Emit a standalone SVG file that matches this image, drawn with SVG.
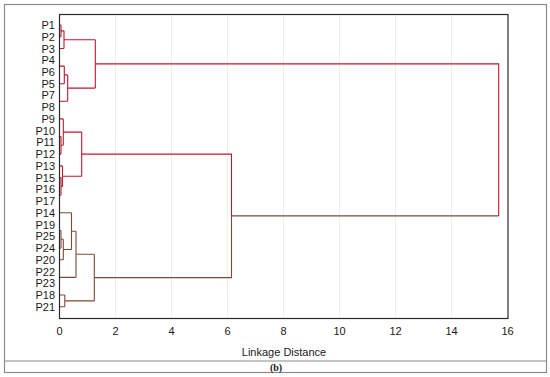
<svg xmlns="http://www.w3.org/2000/svg" width="550" height="377" viewBox="0 0 550 377">
<style>
.lbl{font-family:"Liberation Sans",Arial,sans-serif;font-size:11px;fill:#1a1a1a}
.leaf{text-anchor:end}
.tick{text-anchor:middle}
.grid{stroke:#f0f0f0;stroke-width:1}
.r{fill:none;stroke:#c4162f;stroke-width:1.1}
.b{fill:none;stroke:#7d4a3a;stroke-width:1.1}
</style>
<rect x="0" y="0" width="550" height="377" fill="#fff"/>
<rect x="4.5" y="4.5" width="542" height="368" fill="none" stroke="#8c8c8c" stroke-width="1.2"/>
<line x1="4.5" y1="361" x2="546.5" y2="361" stroke="#8c8c8c" stroke-width="1.2"/>
<g id="grid">
<line class="grid" x1="115.5" y1="15" x2="115.5" y2="318"/>
<line class="grid" x1="171.5" y1="15" x2="171.5" y2="318"/>
<line class="grid" x1="227.5" y1="15" x2="227.5" y2="318"/>
<line class="grid" x1="283.5" y1="15" x2="283.5" y2="318"/>
<line class="grid" x1="339.5" y1="15" x2="339.5" y2="318"/>
<line class="grid" x1="395.5" y1="15" x2="395.5" y2="318"/>
<line class="grid" x1="451.5" y1="15" x2="451.5" y2="318"/>
</g>
<g id="connectors">
<!-- P1-P8 cluster -->
<path class="r" d="M59.5 25H61M59.5 36.7H61M61 25V36.7M61 30.85H64M59.5 48.5H64M64 30.85V48.5M64 39.7H95.3"/>
<path class="r" d="M59.5 66.1H64.3M59.5 83.7H64.3M64.3 66.1V83.7M64.3 74.9H67.7M59.5 101.3H67.7M67.7 74.9V101.3M67.7 88.1H95.3"/>
<path class="r" d="M95.3 39.7V88.1M95.3 63.9H498.7V215.9"/>
<!-- P9-P17 cluster -->
<path class="r" d="M59.5 136.6H61M59.5 154.1H61M61 136.6V154.1M61 145.3H63.3M59.5 118.9H63.3M63.3 118.9V145.3M63.3 132.1H81.7"/>
<path class="r" d="M59.5 177.6H61M59.5 195.3H61M61 177.6V195.3M61 186.4H62.5M59.5 165.9H62.5M62.5 165.9V186.4M62.5 176.2H81.7"/>
<path class="r" d="M81.7 132.1V176.2M81.7 154.15H231.5V215.9"/>
<!-- P14-P21 cluster -->
<path class="b" d="M59.5 230.5H61M59.5 248.1H61M61 230.5V248.1M61 239.3H63.3M59.5 259.8H63.3M63.3 239.3V259.8M63.3 249.5H71.5M59.5 212.8H71.5M71.5 212.8V249.5M71.5 231.2H76M59.5 277.4H76M76 231.2V277.4M76 254.3H94.3"/>
<path class="b" d="M59.5 295H64.8M59.5 306.8H64.8M64.8 295V306.8M64.8 300.9H94.3M94.3 254.3V300.9M94.3 277.6H231.5V215.9M231.5 215.9H498.7"/>
</g>
<rect x="59.5" y="14.5" width="448.5" height="304" fill="none" stroke="#2a2a2a" stroke-width="1.2"/>
<g id="leaves" class="lbl leaf">
<text x="55" y="29">P1</text>
<text x="55" y="40.7">P2</text>
<text x="55" y="52.5">P3</text>
<text x="55" y="64.2">P4</text>
<text x="55" y="76">P6</text>
<text x="55" y="87.7">P5</text>
<text x="55" y="99.4">P7</text>
<text x="55" y="111.2">P8</text>
<text x="55" y="122.9">P9</text>
<text x="55" y="134.7">P10</text>
<text x="55" y="146.4">P11</text>
<text x="55" y="158.1">P12</text>
<text x="55" y="169.9">P13</text>
<text x="55" y="181.6">P15</text>
<text x="55" y="193.4">P16</text>
<text x="55" y="205.1">P17</text>
<text x="55" y="216.8">P14</text>
<text x="55" y="228.6">P19</text>
<text x="55" y="240.3">P25</text>
<text x="55" y="252.1">P24</text>
<text x="55" y="263.8">P20</text>
<text x="55" y="275.5">P22</text>
<text x="55" y="287.3">P23</text>
<text x="55" y="299">P18</text>
<text x="55" y="310.8">P21</text>
</g>
<g id="axis" class="lbl tick">
<text x="59.5" y="335">0</text>
<text x="115.5" y="335">2</text>
<text x="171.5" y="335">4</text>
<text x="227.5" y="335">6</text>
<text x="283.5" y="335">8</text>
<text x="339.5" y="335">10</text>
<text x="395.5" y="335">12</text>
<text x="451.5" y="335">14</text>
<text x="507.5" y="335">16</text>
<text x="284" y="356">Linkage Distance</text>
</g>
<text x="276" y="371" text-anchor="middle" font-family="'Liberation Serif','Times New Roman',serif" font-size="10" font-weight="bold" fill="#1a1a1a">(b)</text>
</svg>
